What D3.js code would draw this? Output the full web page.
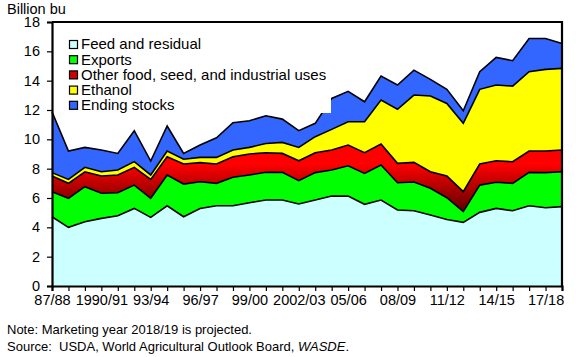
<!DOCTYPE html>
<html><head><meta charset="utf-8">
<script src="https://cdn.jsdelivr.net/npm/d3@7"></script>
<style>
body{margin:0;background:#fff;}
svg{display:block;font-family:"Liberation Sans",Arial,sans-serif;}
</style></head>
<body><svg id="c" width="576" height="357"></svg>
<script>
const years = ["87/88","88/89","89/90","1990/91","91/92","92/93","93/94","94/95","95/96","96/97","97/98","98/99","99/00","00/01","01/02","2002/03","03/04","04/05","05/06","06/07","07/08","08/09","09/10","10/11","11/12","12/13","13/14","14/15","15/16","16/17","17/18","18/19"];
const xTickLabels = ["87/88","1990/91","93/94","96/97","99/00","2002/03","05/06","08/09","11/12","14/15","17/18"];
const yTicks = [0,2,4,6,8,10,12,14,16,18];
const feed    = [4.72,4.00,4.38,4.61,4.79,5.29,4.68,5.47,4.72,5.29,5.47,5.47,5.68,5.86,5.86,5.59,5.86,6.13,6.13,5.57,5.86,5.18,5.13,4.84,4.54,4.34,5.02,5.29,5.13,5.47,5.34,5.41];
const exportsV= [1.71,1.98,2.39,1.71,1.57,1.59,1.30,2.10,2.23,1.82,1.53,1.94,1.89,1.89,1.89,1.59,1.87,1.78,2.07,2.11,2.39,1.86,1.96,1.82,1.48,0.73,1.86,1.78,1.87,2.28,2.39,2.38];
const other   = [1.07,1.02,1.02,1.18,1.21,1.21,1.29,1.24,1.37,1.30,1.32,1.40,1.43,1.34,1.29,1.36,1.36,1.36,1.41,1.41,1.43,1.32,1.34,1.13,1.48,1.36,1.44,1.47,1.47,1.45,1.47,1.48];
const ethanol = [0.23,0.27,0.30,0.29,0.34,0.39,0.30,0.39,0.32,0.36,0.45,0.46,0.45,0.63,0.75,0.91,1.09,1.41,1.59,2.11,3.00,3.69,4.59,5.16,4.95,4.66,5.09,5.16,5.16,5.41,5.57,5.57];
const stocks  = [4.15,1.93,1.36,1.48,1.13,2.11,0.95,1.71,0.40,0.84,1.34,1.86,1.82,1.89,1.59,1.14,0.91,2.11,2.07,1.36,1.63,1.65,1.70,1.14,0.96,0.86,1.20,1.89,1.73,2.27,2.11,1.70];
const seriesNames = ["Feed and residual","Exports","Other food, seed, and industrial uses","Ethanol","Ending stocks"];
const keys = ["feed","exports","other","ethanol","stocks"];
const colors = ["#CCFFFF","#00FF00","url(#redGrad)","#FFFF00","#3366FF"];
const legendColors = ["#CCFFFF","#00FF00","#CC0000","#FFFF00","#3366FF"];

const data = years.map((yr,i)=>({year:yr,feed:feed[i],exports:exportsV[i],other:other[i],ethanol:ethanol[i],stocks:stocks[i]}));

const svg = d3.select("#c");
const L=52,R=562,T=22,B=286;
const x = d3.scalePoint().domain(years).range([L,R]);
const y = d3.scaleLinear().domain([0,18]).range([B,T]);

const defs = svg.append("defs");
const g = defs.append("linearGradient").attr("id","redGrad").attr("gradientUnits","userSpaceOnUse")
  .attr("x1",0).attr("x2",0).attr("y1",y(8.3)).attr("y2",y(5.0));
g.append("stop").attr("offset","0%").attr("stop-color","#FF0000");
g.append("stop").attr("offset","100%").attr("stop-color","#5A0000");

const stacked = d3.stack().keys(keys)(data);
const area = d3.area().x(d=>x(d.data.year)).y0(d=>y(d[0])).y1(d=>y(d[1]));
const line = d3.line().x(d=>x(d.data.year)).y(d=>y(d[1]));

svg.append("g").selectAll("path").data(stacked).join("path")
  .attr("d",area).attr("fill",(d,i)=>colors[i]).attr("stroke","none");
svg.append("g").selectAll("path").data(stacked).join("path")
  .attr("d",line).attr("fill","none").attr("stroke","#000").attr("stroke-width",1.6).attr("stroke-linejoin","miter");

// legend box (white, overlaps plot)
svg.append("rect").attr("x",63).attr("y",31).attr("width",268).attr("height",82).attr("fill","#fff");
const lg = svg.append("g");
seriesNames.forEach((n,i)=>{
  const yy = 44 + i*15.2;
  lg.append("rect").attr("x",69.5).attr("y",yy-3.5).attr("width",8).attr("height",8)
    .attr("fill",legendColors[i]).attr("stroke","#000").attr("stroke-width",1.2);
  lg.append("text").attr("x",81).attr("y",yy+5.3).attr("font-size",15).attr("fill","#000").text(n);
});

// frame
svg.append("path").attr("d",`M${L},${T}H${R}V${B}`).attr("fill","none").attr("stroke","#000").attr("stroke-width",2.2);

// axes
const ya = svg.append("g").attr("transform",`translate(${L},0)`)
  .call(d3.axisLeft(y).tickValues(yTicks).tickSize(5).tickPadding(7).tickFormat(d3.format("d")));
ya.select(".domain").attr("stroke-width",2.2);
ya.selectAll(".tick line").attr("stroke-width",1.2);
ya.selectAll("text").attr("font-size",14.5).attr("font-family","Liberation Sans, Arial, sans-serif").attr("fill","#000");

const xa = svg.append("g").attr("transform",`translate(0,${B})`)
  .call(d3.axisBottom(x).tickSize(5).tickPadding(4).tickFormat(d=>xTickLabels.includes(d)?d:""));
xa.select(".domain").attr("stroke-width",2.2);
xa.selectAll(".tick line").attr("stroke-width",1.2);
xa.selectAll("text").attr("font-size",14.5).attr("font-family","Liberation Sans, Arial, sans-serif").attr("fill","#000");

svg.append("text").attr("x",7).attr("y",14).attr("font-size",14.5).text("Billion bu");
svg.append("text").attr("x",7).attr("y",334).attr("font-size",13).text("Note: Marketing year 2018/19 is projected.");
const src = svg.append("text").attr("x",7).attr("y",351).attr("font-size",13);
src.append("tspan").text("Source:\u00a0 USDA, World Agricultural Outlook Board, ");
src.append("tspan").attr("font-style","italic").text("WASDE");
src.append("tspan").text(".");
</script></body></html>
